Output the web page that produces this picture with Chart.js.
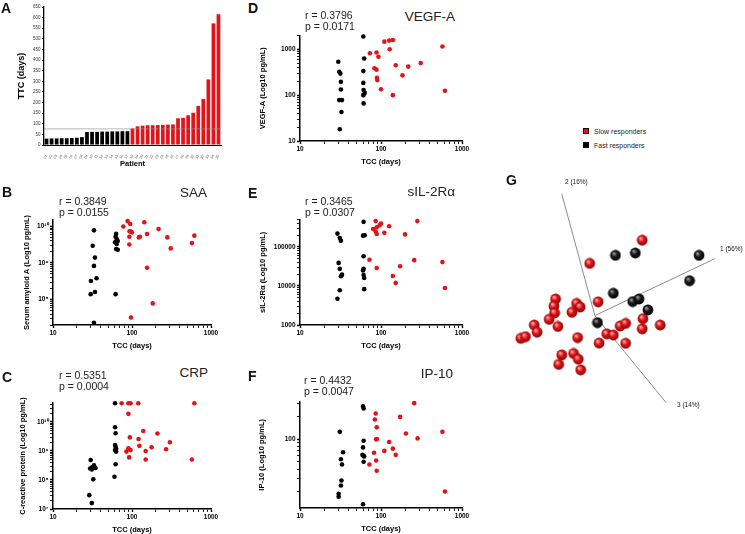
<!DOCTYPE html>
<html lang="en">
<head>
  <meta charset="UTF-8" />
  <title>TCC and cytokines</title>
  <script src="https://cdn.jsdelivr.net/npm/chart.js"></script>
  <style>
    body { margin: 0; background: #fff; }
    #fig { position: relative; width: 745px; height: 534px; overflow: hidden;
           font-family: "Liberation Sans", Arial, sans-serif; color: #111; }
    #fig canvas { position: absolute; }
    .t { position: absolute; white-space: nowrap; line-height: 1; }
    .lab { font-size: 14px; font-weight: bold; }
    .rp { font-size: 10.5px; line-height: 11px; color: #222; }
    .ttl { font-size: 13.5px; color: #222; }
    .ax { font-size: 6.5px; color: #222; }
    .leg { font-size: 7px; color: #222; }
    .sq { position: absolute; width: 6px; height: 6px; box-sizing: border-box; border: 0.6px solid #300; }
  </style>
</head>
<body>
<div id="fig">
  <canvas id="chartA"></canvas>
  <canvas id="chartB"></canvas>
  <canvas id="chartC"></canvas>
  <canvas id="chartD"></canvas>
  <canvas id="chartE"></canvas>
  <canvas id="chartF"></canvas>
  <canvas id="chartG"></canvas>

  <div class="t lab" style="left:1px;top:0.5px">A</div>
  <div class="t lab" style="left:2px;top:185px">B</div>
  <div class="t lab" style="left:2px;top:370px">C</div>
  <div class="t lab" style="left:248px;top:0.5px">D</div>
  <div class="t lab" style="left:248px;top:185.5px">E</div>
  <div class="t lab" style="left:248px;top:369px">F</div>
  <div class="t lab" style="left:506px;top:173px">G</div>

  <div class="t rp" style="left:59px;top:196.3px">r = 0.3849<br>p = 0.0155</div>
  <div class="t rp" style="left:59px;top:369.6px">r = 0.5351<br>p = 0.0004</div>
  <div class="t rp" style="left:305px;top:10.3px">r = 0.3796<br>p = 0.0171</div>
  <div class="t rp" style="left:305px;top:196.3px">r = 0.3465<br>p = 0.0307</div>
  <div class="t rp" style="left:304px;top:375.3px">r = 0.4432<br>p = 0.0047</div>

  <div class="t ttl" style="right:538px;top:185.9px">SAA</div>
  <div class="t ttl" style="right:537px;top:366.4px">CRP</div>
  <div class="t ttl" style="right:290px;top:10.4px">VEGF-A</div>
  <div class="t ttl" style="right:290px;top:185px">sIL-2Rα</div>
  <div class="t ttl" style="right:292px;top:367.4px">IP-10</div>

  <div class="t ax" style="left:565px;top:178.5px">2 (16%)</div>
  <div class="t ax" style="left:720px;top:245.8px">1 (56%)</div>
  <div class="t ax" style="left:677px;top:401.8px">3 (14%)</div>

  <div class="sq" style="left:583px;top:128px;background:#e0141a"></div>
  <div class="t leg" style="left:594px;top:127.6px">Slow responders</div>
  <div class="sq" style="left:583px;top:142px;background:#000;border-color:#000"></div>
  <div class="t leg" style="left:594px;top:141.6px">Fast responders</div>
</div>

<script>
  // ---- data ----
  const patientIds = ['01','02','03','04','05','06','07','08','09','10','11','12','13','14','15','16','17','18',
    '19','20','21','22','23','24','25','26','27','28','29','30','31','32','33','34','35'];
  const ttcDays = [30, 31, 31, 32, 32, 33, 34, 37, 61, 62, 62, 63, 63, 64, 64, 65, 65,
    78, 88, 91, 93, 93, 94, 95, 96, 97, 126, 128, 140, 152, 184, 217, 309, 573, 616];
  const cutoffDays = 76;

  // [TCC days, level]
  const saaFast = [[33, 7.8e9], [31.8, 2.95e9], [34, 1.4e9], [33, 8.3e8], [35.6, 3.8e8], [30.2, 3.2e8], [34, 1.6e8], [30, 1.4e8], [33, 2.3e7],
    [63, 6.3e9], [62, 5.2e9], [64, 4.5e9], [66, 4.0e9], [61, 3.7e9], [64, 3.3e9], [63, 2.4e9], [66, 2.3e9], [62, 1.4e8]];
  const saaSlow = [[77.6, 1.0e10], [88, 1.4e10], [95, 1.17e10], [97, 7.2e9], [93, 7.4e9], [100, 6.8e9], [92.6, 5.2e9], [92.5, 3.2e9],
    [126, 5.2e9], [122, 5.0e9], [143, 1.3e10], [155, 6.2e9], [217, 8.5e9], [280, 5.0e9], [309, 2.5e9], [155, 7.4e8], [183, 7.8e7],
    [97, 3.2e7], [573, 3.5e9], [616, 5.6e9]];

  const crpFast = [[30, 4.9e8], [29.5, 2.5e8], [31.5, 2.8e8], [33, 3.2e8], [34.5, 2.6e8], [31, 2.3e8], [32.4, 1.05e8], [28.8, 3.0e7], [31, 1.6e7],
    [61, 4.4e10], [61, 6.6e9], [62, 4.1e9], [61, 1.6e9], [62, 1.4e9], [63, 1.2e9], [61, 1.07e9], [63, 9.5e8], [62, 3.5e8], [60, 1.3e8]];
  const crpSlow = [[74, 4.4e10], [90, 4.4e10], [96, 4.4e10], [120, 4.4e10], [90, 1.9e10], [94, 2.95e9], [90, 1.23e9], [85, 9.5e8],
    [96, 1.07e9], [92, 6.0e8], [139, 4.9e9], [121, 2.6e9], [124, 1.5e9], [177, 1.35e9], [149, 1.0e9], [149, 5.1e8], [210, 4.0e9],
    [270, 1.15e9], [302, 2.0e9], [573, 5.1e8], [616, 4.4e10]];

  const vegfFast = [[29.7, 535], [30.5, 325], [31.5, 295], [32, 195], [32, 133], [30.5, 78], [33, 78], [32.5, 43], [31, 18],
    [60.5, 1900], [62, 630], [60.5, 335], [60.5, 185], [61, 129], [63, 112], [60.5, 100], [61, 66]];
  const vegfSlow = [[73, 820], [88, 850], [93, 690], [83, 385], [88, 360], [89, 240], [90, 213], [110, 1470], [126, 1550], [128, 1000],
    [140, 1600], [152, 450], [100, 135], [140, 100], [184, 270], [217, 420], [309, 500], [573, 1150], [616, 125]];

  const il2rFast = [[29, 2.2e5], [31, 1.7e5], [32, 1.45e5], [30, 3.9e4], [31, 2.75e4], [33, 1.95e4], [32, 1.78e4], [31, 7.8e3], [29, 4.7e3],
    [61, 4.4e5], [60, 1.95e5], [63, 2.0e5], [61, 5.8e4], [61, 2.75e4], [60, 2.5e4], [61, 1.9e4], [62, 1.6e4], [62, 8.3e3]];
  const il2rSlow = [[86, 4.6e5], [80, 2.9e5], [88.5, 3.2e5], [86, 2.5e5], [88.5, 2.15e5], [72, 4.7e4], [88.5, 2.9e4], [96, 3.6e5],
    [100, 4.0e5], [110, 2.3e5], [126, 3.4e5], [140, 1.8e4], [152, 1.2e4], [198, 2.1e5], [281, 4.6e5], [172, 3.2e4], [257, 4.6e4],
    [573, 4.1e4], [616, 8.9e3]];

  const ip10Fast = [[31, 126], [32, 54], [33, 46], [34, 67], [32.5, 28], [32, 24], [30, 18.6], [30, 17],
    [60, 278], [61, 259], [61, 96], [60, 78], [59, 62], [61, 60], [62, 59], [61, 50], [60, 13.5]];
  const ip10Slow = [[72, 46], [86, 222], [84, 185], [88.5, 145], [87, 100], [89, 101], [82, 66], [87, 52], [88.5, 38],
    [257, 306], [172, 200], [203, 120], [283, 103], [573, 126], [616, 20], [110, 70], [126, 92], [140, 75], [152, 62]];

  // principal component projection (screen plane), G
  const pcaFast = [[0.87, 2.54], [1.71, 2.64], [4.40, 2.54], [4.00, 1.47], [0.78, 0.94], [1.60, 0.59], [1.87, 0.70], [2.24, 0.24], [0.11, -0.30]];
  const pcaSlow = [[2.00, 3.18], [-0.22, 2.20], [0.14, 0.58], [-1.66, 0.70], [-1.73, 0.40], [-1.70, 0.11], [-1.93, -0.16], [-1.56, -0.46],
    [-0.77, 0.51], [-0.62, 0.36], [-0.97, 0.14], [-2.56, -0.40], [-2.44, -0.70], [-3.13, -0.96], [-2.93, -0.89], [-0.73, -0.93],
    [0.18, -1.16], [0.50, -0.77], [0.78, -0.82], [1.07, -0.44], [1.30, -0.33], [1.30, -1.17], [2.03, -0.13], [2.00, -0.56],
    [2.76, -0.40], [-1.40, -1.66], [-0.90, -1.60], [-0.70, -1.84], [-1.53, -2.06], [-0.60, -2.29]];
  const pcaAxisEnds = [[5.07, 2.40], [-1.40, 5.14], [3.00, -3.66]];

  const slowColor = '#e0141a';
  const fastColor = '#000000';

  Chart.defaults.font.family = '"Liberation Sans", Arial, sans-serif';
  Chart.defaults.color = '#000';

  const supers = { '0': '⁰', '1': '¹', '2': '²', '3': '³', '4': '⁴', '5': '⁵', '6': '⁶', '7': '⁷', '8': '⁸', '9': '⁹' };

  function decadeLabel(v, sup) {
    const e = Math.log10(v);
    if (Math.abs(e - Math.round(e)) > 1e-6) return '';
    if (!sup) return String(Math.round(v));
    return '10' + String(Math.round(e)).split('').map(c => supers[c]).join('');
  }

  // drop the 1.5, 15, ... ticks chart.js adds, keep 1..9 per decade
  function keepWholeTicks(axis) {
    axis.ticks = axis.ticks.filter(t => {
      const m = t.value / Math.pow(10, Math.floor(Math.log10(t.value) + 1e-9));
      return Math.abs(m - Math.round(m)) < 1e-6;
    });
  }

  function place(cv, left, top, w, h) {
    cv.width = w; cv.height = h;
    cv.style.left = left + 'px'; cv.style.top = top + 'px';
  }

  function makeLogPanel(p) {
    const cv = document.getElementById(p.id);
    const h = Math.round(p.plotBottom - p.top + 25);
    place(cv, p.left, p.top, p.width, h);
    const yW = p.plotLeft - p.left;
    const toXY = d => ({ x: d[0], y: d[1] });
    const tickW = ctx => (ctx.tick && Math.abs(Math.log10(ctx.tick.value) % 1) < 1e-6 ? 1.4 : 0.9);

    new Chart(cv, {
      type: 'scatter',
      data: {
        datasets: [
          { data: p.fast.map(toXY), backgroundColor: fastColor, borderWidth: 0, pointRadius: 2.3, clip: false },
          { data: p.slow.map(toXY), backgroundColor: slowColor, borderWidth: 0, pointRadius: 2.3, clip: false }
        ]
      },
      options: {
        responsive: false,
        animation: false,
        events: [],
        layout: { padding: { top: p.plotTop - p.top, right: p.left + p.width - p.plotRight, left: 0, bottom: 0 } },
        plugins: { legend: { display: false }, tooltip: { enabled: false } },
        scales: {
          x: {
            type: 'logarithmic', min: 10, max: 1000,
            afterBuildTicks: keepWholeTicks,
            afterFit: a => { a.height = 25; a.paddingLeft = 0; a.paddingRight = 0; },
            border: { color: '#000', width: 1.5 },
            grid: { drawOnChartArea: false, tickLength: 3, tickColor: '#000', tickWidth: tickW },
            ticks: { autoSkip: false, maxRotation: 0, padding: 1.5, font: { size: 6.5, weight: 'bold' },
                     callback: v => decadeLabel(v, false) },
            title: { display: true, text: 'TCC (days)', font: { size: 7.5, weight: 'bold' }, padding: 0 }
          },
          y: {
            type: 'logarithmic', min: p.yMin, max: p.yMax,
            afterBuildTicks: keepWholeTicks,
            afterFit: a => { a.width = yW; a.paddingTop = 0; a.paddingBottom = 0; },
            border: { color: '#000', width: 1.5 },
            grid: { drawOnChartArea: false, tickLength: 3, tickColor: '#000', tickWidth: tickW },
            ticks: { autoSkip: false, padding: 1.5, font: { size: 6.5, weight: 'bold' },
                     callback: v => decadeLabel(v, p.sup) },
            title: { display: true, text: p.yTitle, font: { size: 7.5, weight: 'bold' },
                     padding: { top: p.yTitleX - p.left - 4.5, bottom: 0 } }
          }
        }
      }
    });
  }

  // ---- A: bar chart ----
  const cutoffLine = {
    id: 'cutoffLine',
    afterDatasetsDraw(chart) {
      const y = chart.scales.y.getPixelForValue(cutoffDays);
      const { left, right } = chart.chartArea;
      const ctx = chart.ctx;
      ctx.save();
      ctx.strokeStyle = 'rgba(140,140,140,0.8)';
      ctx.lineWidth = 0.8;
      ctx.beginPath();
      ctx.moveTo(left, y);
      ctx.lineTo(right, y);
      ctx.stroke();
      ctx.restore();
    }
  };

  const cvA = document.getElementById('chartA');
  place(cvA, 0, 0, 232, 170);
  new Chart(cvA, {
    type: 'bar',
    data: {
      labels: patientIds,
      datasets: [{
        data: ttcDays,
        backgroundColor: ttcDays.map(v => (v > cutoffDays ? slowColor : fastColor)),
        barPercentage: 0.74,
        categoryPercentage: 1
      }]
    },
    options: {
      responsive: false,
      animation: false,
      events: [],
      layout: { padding: { top: 7, right: 11, left: 0, bottom: 0 } },
      plugins: { legend: { display: false }, tooltip: { enabled: false } },
      scales: {
        x: {
          afterFit: a => { a.height = 25; a.paddingLeft = 0; a.paddingRight = 0; },
          border: { color: '#000', width: 1 },
          grid: { display: false },
          ticks: { autoSkip: false, minRotation: 60, maxRotation: 60, padding: 1, color: '#555', font: { size: 3.5 } },
          title: { display: true, text: 'Patient', font: { size: 7.5, weight: 'bold' }, padding: { top: 0, bottom: 2 } }
        },
        y: {
          min: 0, max: 650,
          afterFit: a => { a.width = 44; a.paddingTop = 0; a.paddingBottom = 0; },
          border: { color: '#000', width: 1.3 },
          grid: { drawOnChartArea: false, tickLength: 2, tickColor: '#000' },
          ticks: { stepSize: 50, padding: 1.5, color: '#333', font: { size: 4.5 } },
          title: { display: true, text: 'TTC (days)', font: { size: 9, weight: 'bold' }, padding: { top: 16, bottom: 0 } }
        }
      }
    },
    plugins: [cutoffLine]
  });

  // ---- B-F: log-log scatter panels ----
  makeLogPanel({ id: 'chartB', left: 0, top: 210, width: 225, plotLeft: 53, plotRight: 211, plotTop: 220, plotBottom: 325,
    yMin: 2e7, yMax: 1.5e10, sup: true, fast: saaFast, slow: saaSlow,
    yTitle: 'Serum amyloid A (Log10 pg/mL)', yTitleX: 26.7 });
  makeLogPanel({ id: 'chartC', left: 0, top: 393, width: 225, plotLeft: 53, plotRight: 211, plotTop: 403, plotBottom: 509,
    yMin: 1e7, yMax: 4.5e10, sup: true, fast: crpFast, slow: crpSlow,
    yTitle: 'C-reactive protein (Log10 pg/mL)', yTitleX: 22.5 });
  makeLogPanel({ id: 'chartD', left: 245, top: 25, width: 230, plotLeft: 300, plotRight: 462, plotTop: 35.5, plotBottom: 141,
    yMin: 10, yMax: 2000, sup: false, fast: vegfFast, slow: vegfSlow,
    yTitle: 'VEGF-A (Log10 pg/mL)', yTitleX: 263 });
  makeLogPanel({ id: 'chartE', left: 245, top: 210, width: 230, plotLeft: 300, plotRight: 462, plotTop: 219.7, plotBottom: 325,
    yMin: 1000, yMax: 5e5, sup: false, fast: il2rFast, slow: il2rSlow,
    yTitle: 'sIL-2Rα (Log10 pg/mL)', yTitleX: 263 });
  makeLogPanel({ id: 'chartF', left: 245, top: 392, width: 230, plotLeft: 300, plotRight: 462, plotTop: 401.7, plotBottom: 508,
    yMin: 12, yMax: 320, sup: false, fast: ip10Fast, slow: ip10Slow,
    yTitle: 'IP-10 (Log10 pg/mL)', yTitleX: 262 });

  // ---- G: 3D PCA view ----
  function sphere(light, base, dark) {
    const c = document.createElement('canvas');
    c.width = c.height = 12;
    const g = c.getContext('2d');
    const grad = g.createRadialGradient(4.3, 4.0, 0.4, 6, 6, 6);
    grad.addColorStop(0, light);
    grad.addColorStop(0.4, base);
    grad.addColorStop(1, dark);
    g.fillStyle = grad;
    g.beginPath();
    g.arc(6, 6, 5.4, 0, Math.PI * 2);
    g.fill();
    return c;
  }
  const redBall = sphere('#ffb0a8', '#e3191c', '#7d0000');
  const blackBall = sphere('#9a9a9a', '#1c1c1c', '#000');

  const cvG = document.getElementById('chartG');
  place(cvG, 500, 170, 245, 250);
  const toXY = d => ({ x: d[0], y: d[1] });
  new Chart(cvG, {
    type: 'scatter',
    data: {
      datasets: [
        { data: pcaFast.map(toXY), pointStyle: blackBall, pointRadius: 5.5, clip: false },
        { data: pcaSlow.map(toXY), pointStyle: redBall, pointRadius: 5.5, clip: false }
      ].concat(pcaAxisEnds.map(e => ({
        data: [{ x: 0, y: 0 }, toXY(e)], showLine: true, pointRadius: 0,
        borderColor: '#6e6e6e', borderWidth: 0.8, clip: false
      })))
    },
    options: {
      responsive: false,
      animation: false,
      events: [],
      layout: { padding: 0 },
      plugins: { legend: { display: false }, tooltip: { enabled: false } },
      scales: {
        x: { display: false, min: -3.732, max: 6.068 },
        y: { display: false, min: -4.132, max: 5.868 }
      }
    }
  });
</script>
</body>
</html>
